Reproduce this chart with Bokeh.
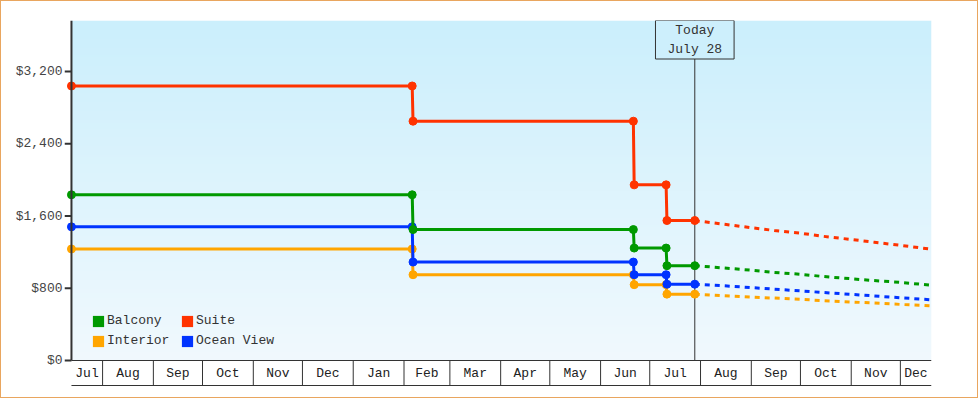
import numpy as np
import pandas as pd
from bokeh.plotting import figure
from bokeh.models import (Range1d, FixedTicker, NumeralTickFormatter, Label,
                          Legend, LegendItem)
from bokeh.core.properties import value
from bokeh.embed import file_html
from bokeh.resources import INLINE

# ---------------- data ----------------
hist_dates = ["2022-07-13 00:00", "2023-02-06 00:00", "2023-02-06 12:00",
              "2023-06-21 00:00", "2023-06-21 12:00", "2023-07-11 00:00",
              "2023-07-11 12:00", "2023-07-28 12:00"]
suite_hist = [3040, 3040, 2650, 2650, 1945, 1945, 1550, 1550]
balcony_hist = [1835, 1835, 1450, 1450, 1245, 1245, 1050, 1050]
ocean_hist = [1480, 1480, 1090, 1090, 950, 950, 845, 845]
interior_hist = [1235, 1235, 950, 950, 840, 840, 735, 735]

forecast_dates = ["2023-07-28 12:00", "2023-08-15", "2023-09-01", "2023-09-15",
                  "2023-10-01", "2023-10-15", "2023-11-01", "2023-11-15",
                  "2023-12-01", "2023-12-19"]
suite_fc = [1550, 1510, 1470, 1440, 1410, 1375, 1340, 1310, 1275, 1235]
balcony_fc = [1050, 1025, 1000, 975, 955, 930, 905, 885, 865, 835]
ocean_fc = [845, 828, 807, 790, 771, 753, 732, 715, 695, 673]
interior_fc = [735, 718, 703, 691, 677, 663, 648, 636, 621, 605]

series_names = ["Interior", "Ocean View", "Balcony", "Suite"]
series_colors = ["#ffa500", "#0033ff", "#009900", "#ff3300"]
series_hist = [interior_hist, ocean_hist, balcony_hist, suite_hist]
series_fc = [interior_fc, ocean_fc, balcony_fc, suite_fc]

month_starts = ["2022-08-01", "2022-09-01", "2022-10-01", "2022-11-01", "2022-12-01",
                "2023-01-01", "2023-02-01", "2023-03-01", "2023-04-01", "2023-05-01",
                "2023-06-01", "2023-07-01", "2023-08-01", "2023-09-01", "2023-10-01",
                "2023-11-01", "2023-12-01"]
month_labels = ["Jul", "Aug", "Sep", "Oct", "Nov", "Dec", "Jan", "Feb", "Mar", "Apr",
                "May", "Jun", "Jul", "Aug", "Sep", "Oct", "Nov", "Dec"]
y_ticks = [0, 800, 1600, 2400, 3200]
today_date = "2023-07-28 12:00"
today_text = "Today\nJuly 28"

range_start = "2022-07-08 18:00"
range_end = "2023-12-20"
y_top = 3765
px_per_unit = 340 / y_top          # vertical pixels per dollar


def ms(s):
    return int(pd.Timestamp(s).value // 10**6)


FONT = "Liberation Mono"
x_start, x_end = ms(range_start), ms(range_end)
axis_start = ms(hist_dates[0])
hist_x = [ms(d) for d in hist_dates]
fc_x = [ms(d) for d in forecast_dates]
y_bottom = -26 / px_per_unit       # room under the chart for the month boxes
box_bottom = -25 / px_per_unit
label_y = -13 / px_per_unit

p = figure(width=978, height=398, x_axis_type="datetime", x_axis_location=None,
           x_range=Range1d(x_start, x_end), y_range=Range1d(y_bottom, y_top),
           output_backend="svg", toolbar_location=None,
           min_border_left=63, min_border_right=48, min_border_top=19,
           min_border_bottom=13, background_fill_color="white",
           border_fill_color="white", outline_line_color=None,
           styles={"border": "1px solid #e9a65f"})
p.grid.visible = False

# gradient background of the chart area
N = 340
top_c = np.array([203, 239, 252], dtype=float)
bot_c = np.array([241, 249, 254], dtype=float)
img = np.zeros((N, 1), dtype=np.uint32)
view = img.view(dtype=np.uint8).reshape((N, 1, 4))
t = np.linspace(0, 1, N)
for i in range(N):
    c = bot_c + (top_c - bot_c) * t[i]
    view[i, 0, 0:3] = c.astype(np.uint8)
    view[i, 0, 3] = 255
p.image_rgba(image=[img], x=axis_start, y=0, dw=x_end - axis_start, dh=y_top, level="image")

# today line
p.segment(x0=[ms(today_date)], y0=[0], x1=[ms(today_date)], y1=[y_top],
          line_color="#333333", line_width=1)

for name, color, h, f in zip(series_names, series_colors, series_hist, series_fc):
    p.line(fc_x, f, line_width=3, color=color, line_dash="5 5")
    p.line(hist_x, h, line_width=3, color=color)
    p.scatter(hist_x, h, size=8, color=color)

# legend (square swatches)
swatch = {}
for name, color in zip(series_names, series_colors):
    swatch[name] = p.quad(left=[np.nan], right=[np.nan], top=[np.nan], bottom=[np.nan],
                          fill_color=color, line_color=None)
legend_order = ["Balcony", "Interior", "Suite", "Ocean View"]
legend = Legend(items=[LegendItem(label=n, renderers=[swatch[n]]) for n in legend_order],
                orientation="vertical", nrows=2, location=(27, 38),
                background_fill_alpha=0, border_line_color=None, padding=0, margin=0,
                spacing=5, glyph_width=14, glyph_height=14, label_height=14,
                label_width=68, label_standoff=2, label_text_font=FONT,
                label_text_font_size="13px", label_text_color="#333333")
p.add_layout(legend)

# today label
p.add_layout(Label(x=ms(today_date), y=y_top, text=today_text, anchor="top_center",
                   text_align="center", text_font=FONT, text_font_size="13px",
                   text_color="#333333", text_line_height=1.3, padding=(12, 2),
                   border_line_color="#333333", border_line_width=1,
                   background_fill_color="#cdeffc"))

# y axis: labels from the axis, line and ticks drawn in the frame
yax = p.yaxis[0]
yax.ticker = FixedTicker(ticks=y_ticks)
yax.formatter = NumeralTickFormatter(format="$0,0")
yax.axis_line_color = None
yax.major_tick_out = 0
yax.major_tick_in = 0
yax.major_tick_line_color = None
yax.minor_tick_line_color = None
yax.major_label_standoff = 2
yax.major_label_text_font = FONT
yax.major_label_text_font_size = "13px"
yax.major_label_text_color = "#444444"

p.segment(x0=[axis_start], y0=[0], x1=[axis_start], y1=[y_top],
          line_color="#333333", line_width=2)
p.segment(x0=[x_start] * len(y_ticks), y0=y_ticks, x1=[axis_start] * len(y_ticks),
          y1=y_ticks, line_color="#333333", line_width=2)

# x axis: month boxes
bounds = [axis_start] + [ms(m) for m in month_starts] + [x_end]
mids = [int((a + b) // 2) for a, b in zip(bounds[:-1], bounds[1:])]
inner = bounds[1:-1]
p.segment(x0=inner, y0=[0] * len(inner), x1=inner, y1=[box_bottom] * len(inner),
          line_color="#333333", line_width=1)
p.segment(x0=[axis_start, axis_start], y0=[0, box_bottom], x1=[x_end, x_end],
          y1=[0, box_bottom], line_color="#333333", line_width=1)
p.text(x=mids, y=[label_y] * len(mids), text=month_labels, text_align="center",
       text_baseline="middle", text_font=value(FONT), text_font_size="13px",
       text_color="#222222")

open("out.html", "w").write(file_html(p, INLINE))
